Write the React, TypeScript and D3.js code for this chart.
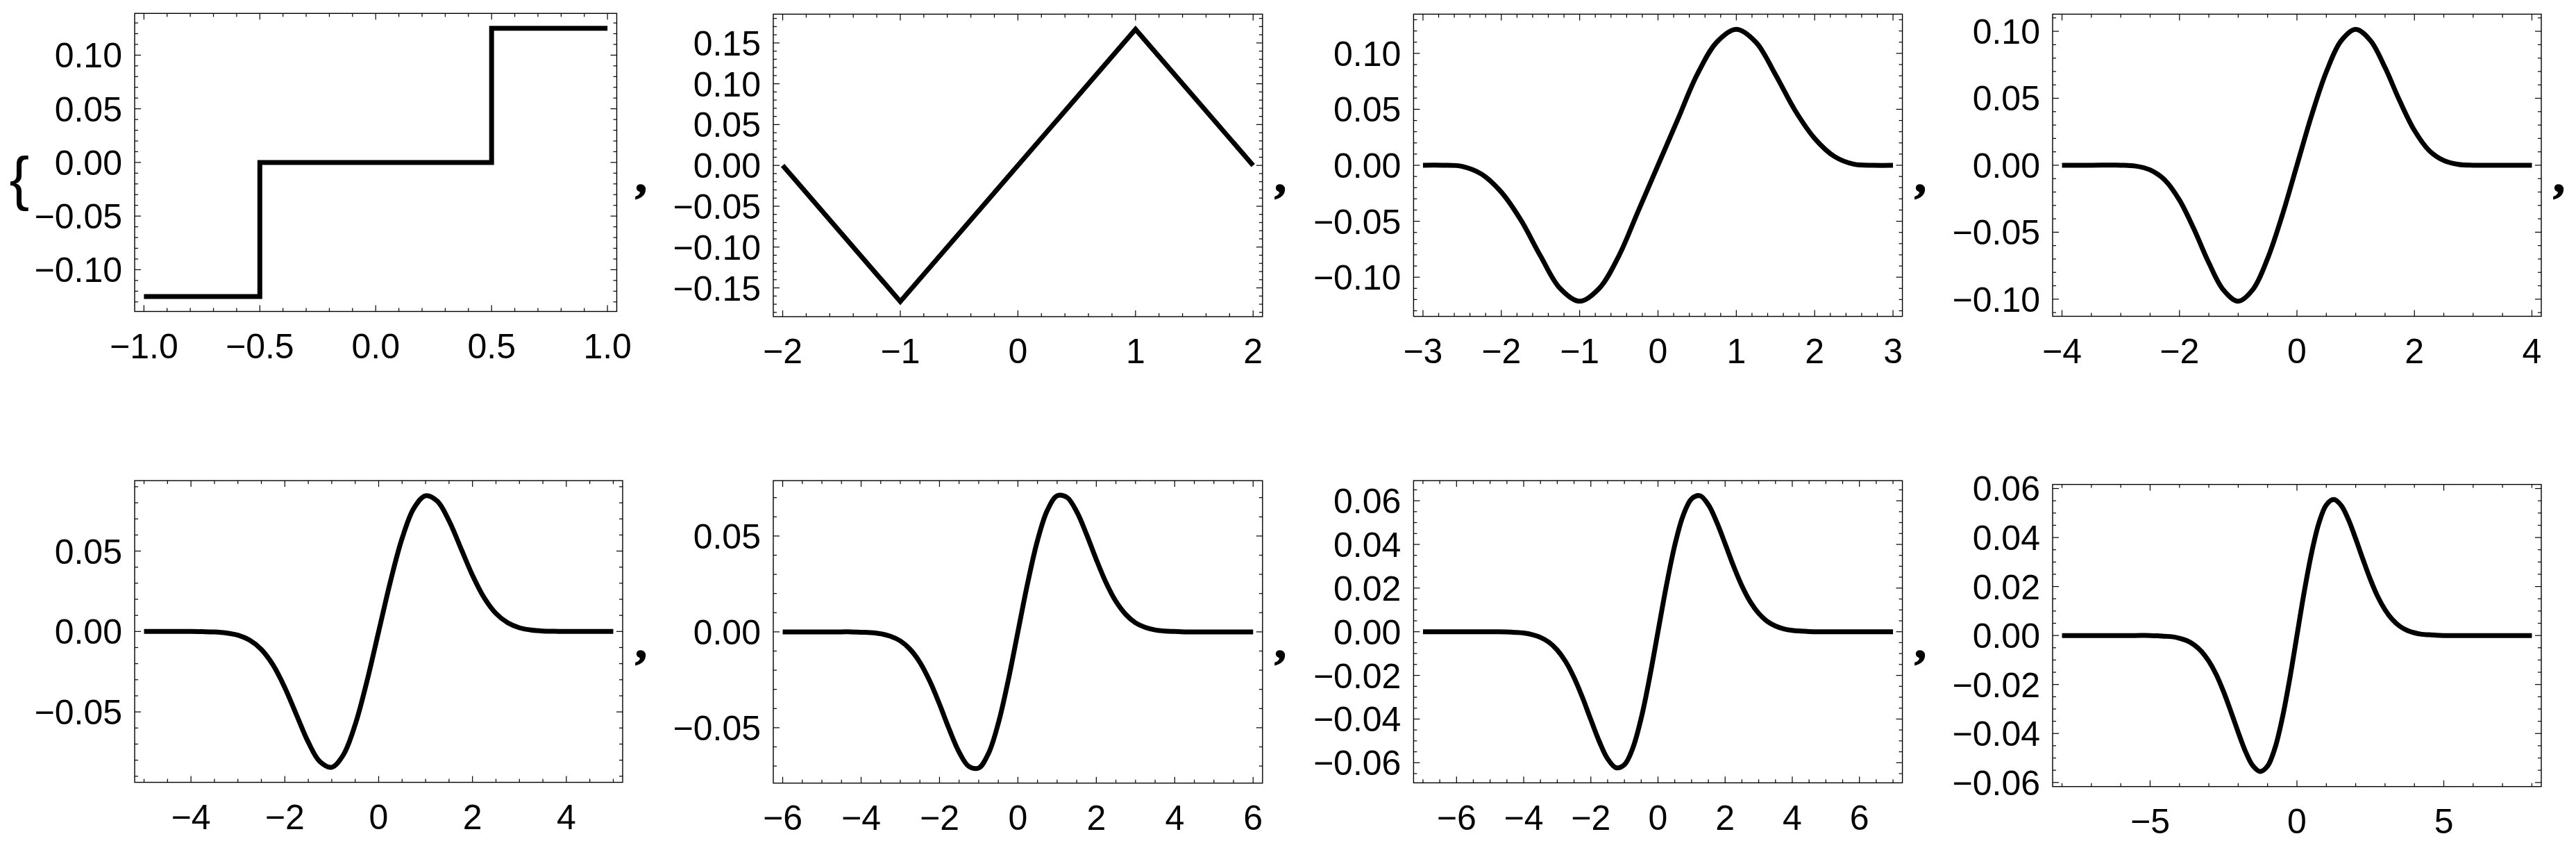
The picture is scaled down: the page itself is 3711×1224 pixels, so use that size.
import { useEffect, useRef } from "react"
import * as d3 from "d3"

// ---- data (x, y per panel) ----

// panel 1: step
const p1X = [-1, -0.5, 0.5, 1]
const p1Y = [-0.125, 0, 0.125, 0.125]

// panel 2: piecewise linear
const p2X = [-2, -1, 1, 2]
const p2Y = [0, -0.1667, 0.1667, 0]

// panel 3
const p3X = [-3, -2.75, -2.5, -2.25, -2, -1.75, -1.5, -1.25, -1, -0.75, -0.5, -0.25, 0, 0.25, 0.5, 0.75, 1, 1.25, 1.5, 1.75, 2, 2.25, 2.5, 2.75, 3]
const p3Y = [0, 0, -0.001, -0.008, -0.024, -0.049, -0.081, -0.11, -0.1215, -0.11, -0.081, -0.0405, 0, 0.0405, 0.081, 0.11, 0.1215, 0.11, 0.081, 0.049, 0.024, 0.008, 0.001, 0, 0]

// panel 4
const p4X = [-4, -3.5, -3, -2.75, -2.5, -2.25, -2, -1.75, -1.5, -1.25, -1, -0.75, -0.5, -0.25, 0, 0.25, 0.5, 0.75, 1, 1.25, 1.5, 1.75, 2, 2.25, 2.5, 2.75, 3, 3.5, 4]
const p4Y = [0, 0, 0, -0.0006, -0.0035, -0.011, -0.026, -0.048, -0.0729, -0.0932, -0.1015, -0.0928, -0.0697, -0.0373, 0, 0.0373, 0.0697, 0.0928, 0.1015, 0.0932, 0.0729, 0.048, 0.026, 0.011, 0.0035, 0.0006, 0, 0, 0]

// panel 5
const p5X = [-5, -4.5, -4, -3.75, -3.5, -3.25, -3, -2.75, -2.5, -2.25, -2, -1.75, -1.5, -1.25, -1, -0.75, -0.5, -0.25, 0, 0.25, 0.5, 0.75, 1, 1.25, 1.5, 1.75, 2, 2.25, 2.5, 2.75, 3, 3.25, 3.5, 3.75, 4, 4.5, 5]
const p5Y = [0, 0, 0, -0.0001, -0.0003, -0.0009, -0.0023, -0.0054, -0.0112, -0.0209, -0.0349, -0.0519, -0.0688, -0.081, -0.0844, -0.0766, -0.0579, -0.031, 0, 0.031, 0.0579, 0.0766, 0.0844, 0.081, 0.0688, 0.0519, 0.0349, 0.0209, 0.0112, 0.0054, 0.0023, 0.0009, 0.0003, 0.0001, 0, 0, 0]

// panel 6
const p6X = [-6, -5.5, -5, -4.5, -4.25, -4, -3.75, -3.5, -3.25, -3, -2.75, -2.5, -2.25, -2, -1.75, -1.5, -1.25, -1, -0.75, -0.5, -0.25, 0, 0.25, 0.5, 0.75, 1, 1.25, 1.5, 1.75, 2, 2.25, 2.5, 2.75, 3, 3.25, 3.5, 3.75, 4, 4.25, 4.5, 5, 5.5, 6]
const p6Y = [0, 0, 0, 0, 0, -0.0002, -0.0004, -0.001, -0.0023, -0.0047, -0.0091, -0.0159, -0.0256, -0.0377, -0.0509, -0.0627, -0.0702, -0.071, -0.0634, -0.0477, -0.0256, 0, 0.0256, 0.0477, 0.0634, 0.071, 0.0702, 0.0627, 0.0509, 0.0377, 0.0256, 0.0159, 0.0091, 0.0047, 0.0023, 0.001, 0.0004, 0.0002, 0, 0, 0, 0, 0]

// panel 7
const p7X = [-7, -6.5, -6, -5.5, -5, -4.75, -4.5, -4.25, -4, -3.75, -3.5, -3.25, -3, -2.75, -2.5, -2.25, -2, -1.75, -1.5, -1.25, -1, -0.75, -0.5, -0.25, 0, 0.25, 0.5, 0.75, 1, 1.25, 1.5, 1.75, 2, 2.25, 2.5, 2.75, 3, 3.25, 3.5, 3.75, 4, 4.25, 4.5, 4.75, 5, 5.5, 6, 6.5, 7]
const p7Y = [0, 0, 0, 0, 0, 0, -0.0001, -0.0003, -0.0006, -0.0013, -0.0026, -0.0048, -0.0084, -0.0137, -0.021, -0.0301, -0.0403, -0.0502, -0.0582, -0.0623, -0.0609, -0.0533, -0.0396, -0.0211, 0, 0.0211, 0.0396, 0.0533, 0.0609, 0.0623, 0.0582, 0.0502, 0.0403, 0.0301, 0.021, 0.0137, 0.0084, 0.0048, 0.0026, 0.0013, 0.0006, 0.0003, 0.0001, 0, 0, 0, 0, 0, 0]

// panel 8
const p8X = [-8, -7, -6, -5.5, -5, -4.75, -4.5, -4.25, -4, -3.75, -3.5, -3.25, -3, -2.75, -2.5, -2.25, -2, -1.75, -1.5, -1.25, -1, -0.75, -0.5, -0.25, 0, 0.25, 0.5, 0.75, 1, 1.25, 1.5, 1.75, 2, 2.25, 2.5, 2.75, 3, 3.25, 3.5, 3.75, 4, 4.25, 4.5, 4.75, 5, 5.5, 6, 7, 8]
const p8Y = [0, 0, 0, 0, 0, -0.0001, -0.0003, -0.0005, -0.0011, -0.0021, -0.0038, -0.0065, -0.0105, -0.0159, -0.0229, -0.031, -0.0395, -0.0474, -0.0532, -0.0555, -0.0533, -0.046, -0.0338, -0.018, 0, 0.018, 0.0338, 0.046, 0.0533, 0.0555, 0.0532, 0.0474, 0.0395, 0.031, 0.0229, 0.0159, 0.0105, 0.0065, 0.0038, 0.0021, 0.0011, 0.0005, 0.0003, 0.0001, 0, 0, 0, 0, 0]

// tick labels
const p1XTicks = [-1, -0.5, 0, 0.5, 1]
const p2XTicks = [-2, -1, 0, 1, 2]
const p3XTicks = [-3, -2, -1, 0, 1, 2, 3]
const p4XTicks = [-4, -2, 0, 2, 4]
const p5XTicks = [-4, -2, 0, 2, 4]
const p6XTicks = [-6, -4, -2, 0, 2, 4, 6]
const p7XTicks = [-6, -4, -2, 0, 2, 4, 6]
const p8XTicks = [-5, 0, 5]

const p1YTicks = [-0.1, -0.05, 0, 0.05, 0.1]
const p2YTicks = [-0.15, -0.1, -0.05, 0, 0.05, 0.1, 0.15]
const p3YTicks = [-0.1, -0.05, 0, 0.05, 0.1]
const p4YTicks = [-0.1, -0.05, 0, 0.05, 0.1]
const p5YTicks = [-0.05, 0, 0.05]
const p6YTicks = [-0.05, 0, 0.05]
const p7YTicks = [-0.06, -0.04, -0.02, 0, 0.02, 0.04, 0.06]
const p8YTicks = [-0.06, -0.04, -0.02, 0, 0.02, 0.04, 0.06]

// ---- layout ----
const W = 3711
const H = 1224
const FONT = "'Liberation Sans', Arial, Helvetica, sans-serif"
const ASPECT = 0.618

const panels = [
  { xs: p1X, ys: p1Y, xt: p1XTicks, yt: p1YTicks, xm: 0.1, ym: 0.01, xf: ".1f", yf: ".2f", curve: d3.curveStepAfter, left: 194, top: 19.3, width: 694.5 },
  { xs: p2X, ys: p2Y, xt: p2XTicks, yt: p2YTicks, xm: 0.2, ym: 0.01, xf: "d", yf: ".2f", curve: d3.curveLinear, left: 1114, top: 20.4, width: 704.8 },
  { xs: p3X, ys: p3Y, xt: p3XTicks, yt: p3YTicks, xm: 0.2, ym: 0.01, xf: "d", yf: ".2f", curve: d3.curveCatmullRom, left: 2036.4, top: 20.4, width: 704.2 },
  { xs: p4X, ys: p4Y, xt: p4XTicks, yt: p4YTicks, xm: 0.5, ym: 0.01, xf: "d", yf: ".2f", curve: d3.curveCatmullRom, left: 2957, top: 20.4, width: 704 },
  { xs: p5X, ys: p5Y, xt: p5XTicks, yt: p5YTicks, xm: 0.5, ym: 0.01, xf: "d", yf: ".2f", curve: d3.curveCatmullRom, left: 194, top: 692.1, width: 703 },
  { xs: p6X, ys: p6Y, xt: p6XTicks, yt: p6YTicks, xm: 0.5, ym: 0.01, xf: "d", yf: ".2f", curve: d3.curveCatmullRom, left: 1114, top: 692.1, width: 704.8 },
  { xs: p7X, ys: p7Y, xt: p7XTicks, yt: p7YTicks, xm: 0.5, ym: 0.005, xf: "d", yf: ".2f", curve: d3.curveCatmullRom, left: 2036.4, top: 692.1, width: 704.2 },
  { xs: p8X, ys: p8Y, xt: p8XTicks, yt: p8YTicks, xm: 1, ym: 0.005, xf: "d", yf: ".2f", curve: d3.curveCatmullRom, left: 2957, top: 697.6, width: 704 },
]

// comma positions (ink left, baseline)
const commaTop = [918, 1839, 2761, 3681]
const commaBottom = [918, 1839, 2761]

function minorTicks(d0: number, d1: number, step: number, major: number[]) {
  const out: number[] = []
  for (let k = Math.ceil(d0 / step - 1e-9); k <= Math.floor(d1 / step + 1e-9); k++) {
    const v = k * step
    if (!major.some((m) => Math.abs(m - v) < step / 10)) out.push(v)
  }
  return out
}

export default function App() {
  const svgRef = useRef<SVGSVGElement | null>(null)

  useEffect(() => {
    if (!svgRef.current) return
    const svg = d3.select(svgRef.current)
    svg.selectAll("*").remove()

    svg.append("rect").attr("width", W).attr("height", H).attr("fill", "#fff")

    panels.forEach((p) => {
      const height = p.width * ASPECT
      const bottom = p.top + height
      const right = p.left + p.width

      // x pad 2%, y pad ~5.5% like the original
      const [x0, x1] = d3.extent(p.xs) as [number, number]
      const [y0, y1] = d3.extent(p.ys) as [number, number]
      const px = (x1 - x0) * 0.02
      const py = (y1 - y0) * 0.0556

      const x = d3.scaleLinear().domain([x0 - px, x1 + px]).range([p.left, right])
      const y = d3.scaleLinear().domain([y0 - py, y1 + py]).range([bottom, p.top])

      const g = svg.append("g")

      // frame
      g.append("rect")
        .attr("x", p.left)
        .attr("y", p.top)
        .attr("width", p.width)
        .attr("height", height)
        .attr("fill", "none")
        .attr("stroke", "#000")
        .attr("stroke-width", 1.4)

      const xMinor = minorTicks(x0 - px, x1 + px, p.xm, p.xt)
      const yMinor = minorTicks(y0 - py, y1 + py, p.ym, p.yt)

      const tickG = g.append("g").attr("stroke", "#000").attr("stroke-width", 1.2)

      const xTick = (vals: number[], len: number) => {
        vals.forEach((v) => {
          tickG.append("line").attr("x1", x(v)).attr("x2", x(v)).attr("y1", bottom).attr("y2", bottom - len)
          tickG.append("line").attr("x1", x(v)).attr("x2", x(v)).attr("y1", p.top).attr("y2", p.top + len)
        })
      }
      const yTick = (vals: number[], len: number) => {
        vals.forEach((v) => {
          tickG.append("line").attr("x1", p.left).attr("x2", p.left + len).attr("y1", y(v)).attr("y2", y(v))
          tickG.append("line").attr("x1", right).attr("x2", right - len).attr("y1", y(v)).attr("y2", y(v))
        })
      }
      xTick(p.xt, 9)
      xTick(xMinor, 5)
      yTick(p.yt, 9)
      yTick(yMinor, 5)

      // labels
      const xFmt = d3.format(p.xf)
      const yFmt = d3.format(p.yf)

      g.selectAll(".xl")
        .data(p.xt)
        .enter()
        .append("text")
        .attr("x", (d) => x(d))
        .attr("y", bottom + 67.5)
        .attr("text-anchor", "middle")
        .attr("font-family", FONT)
        .attr("font-size", 50)
        .text((d) => xFmt(d))

      g.selectAll(".yl")
        .data(p.yt)
        .enter()
        .append("text")
        .attr("x", p.left - 18)
        .attr("y", (d) => y(d) + 18)
        .attr("text-anchor", "end")
        .attr("font-family", FONT)
        .attr("font-size", 50)
        .text((d) => yFmt(d))

      // curve
      const line = d3
        .line<[number, number]>()
        .x((d) => x(d[0]))
        .y((d) => y(d[1]))
        .curve(p.curve)

      g.append("path")
        .attr("d", line(d3.zip(p.xs, p.ys) as [number, number][]))
        .attr("fill", "none")
        .attr("stroke", "#000")
        .attr("stroke-width", 7)
        .attr("stroke-linejoin", "miter")
        .attr("stroke-linecap", "butt")
    })

    // opening brace of the list
    svg.append("text")
      .attr("x", 13.5)
      .attr("y", 285.5)
      .attr("font-family", FONT)
      .attr("font-size", 86)
      .text("{")

    const commas = [
      ...commaTop.map((cx) => ({ cx, cy: 276 })),
      ...commaBottom.map((cx) => ({ cx, cy: 947 })),
    ]
    svg.selectAll(".comma")
      .data(commas)
      .enter()
      .append("text")
      .attr("x", (d) => d.cx - 3)
      .attr("y", (d) => d.cy)
      .attr("font-family", "'Liberation Serif', 'Times New Roman', serif")
      .attr("font-weight", "bold")
      .attr("font-size", 68)
      .attr("stroke", "#000")
      .attr("stroke-width", 1.5)
      .text(",")
  }, [])

  return <svg ref={svgRef} width={W} height={H} style={{ position: "absolute", left: 0, top: 0 }}></svg>
}
